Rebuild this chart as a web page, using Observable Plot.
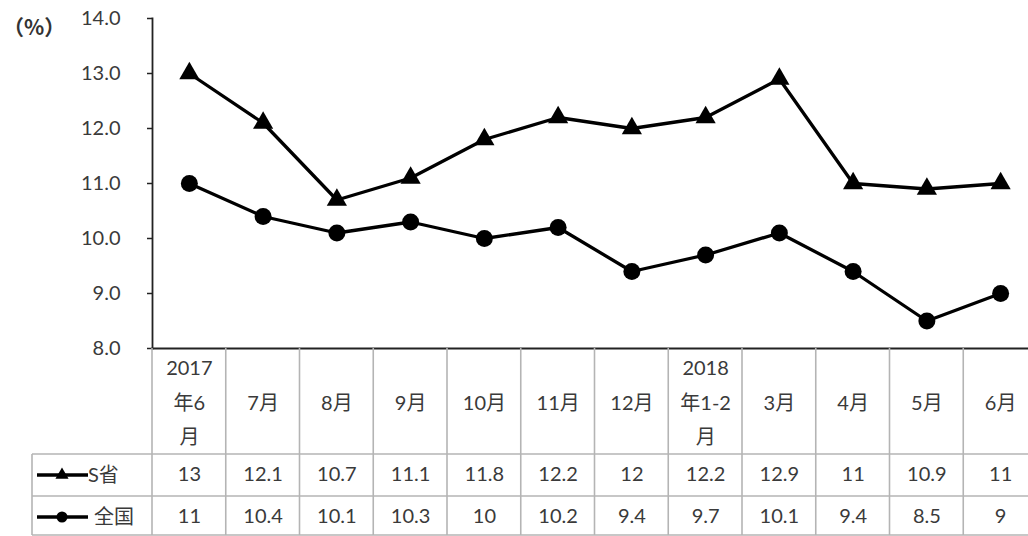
<!DOCTYPE html>
<html><head><meta charset="utf-8">
<script src="https://cdn.jsdelivr.net/npm/d3@7"></script>
<script src="https://cdn.jsdelivr.net/npm/@observablehq/plot@0.6"></script>
<style>
body{margin:0;background:#fff;}
#chart{position:relative;width:1028px;height:536px;overflow:hidden;}
.unit{position:absolute;left:3px;top:11px;font:bold 21px "Noto Sans CJK SC";color:#333;}
</style></head><body><div id="chart"><div class="unit">（%）</div></div>
<script>
const categories = ["2017年6月","7月","8月","9月","10月","11月","12月","2018年1-2月","3月","4月","5月","6月"];
const headerLabels = ["2017\n年6\n月","7月","8月","9月","10月","11月","12月","2018\n年1-2\n月","3月","4月","5月","6月"];
const seriesNames = ["S省","全国"];
const sProvince = [13,12.1,10.7,11.1,11.8,12.2,12,12.2,12.9,11,10.9,11];
const national = [11,10.4,10.1,10.3,10,10.2,9.4,9.7,10.1,9.4,8.5,9];
const yTicks = [8,9,10,11,12,13,14];

(function(){
const FONT = 'Lato, "Noto Sans CJK SC", sans-serif';
const TXT = "#3a3a3a";
const data = [
  ...categories.map((c,i)=>({cat:c, v:sProvince[i], s:seriesNames[0]})),
  ...categories.map((c,i)=>({cat:c, v:national[i], s:seriesNames[1]}))
];
const sData = data.filter(d=>d.s===seriesNames[0]);
const nData = data.filter(d=>d.s===seriesNames[1]);

const plot = Plot.plot({
  width: 1028, height: 536,
  marginLeft: 152, marginRight: 0, marginTop: 18, marginBottom: 188,
  style: {fontFamily: FONT, background: "#fff"},
  x: {type: "point", domain: categories, range: [152, 1037], padding: 0.5, round: false, axis: null},
  y: {domain: [8, 14], axis: null},
  marks: [
    Plot.axisY({ticks: yTicks, tickFormat: d=>d.toFixed(1), tickSize: 5, tickPadding: 27, fontSize: 20, fill: TXT, stroke: "#222", strokeWidth: 1.5, label: null}),
    Plot.frame({anchor: "left", stroke: "#222", strokeWidth: 1.8}),
    Plot.frame({anchor: "bottom", stroke: "#222", strokeWidth: 1.8}),
    Plot.line(sData, {x: "cat", y: "v", stroke: "#000", strokeWidth: 3.3}),
    Plot.line(nData, {x: "cat", y: "v", stroke: "#000", strokeWidth: 3.3}),
    Plot.dot(sData, {x: "cat", y: "v", symbol: "triangle", r: 7.5, fill: "#000"}),
    Plot.dot(nData, {x: "cat", y: "v", symbol: "circle", r: 8.5, fill: "#000"}),
    Plot.text(categories, {x: d=>d, text: (d,i)=>headerLabels[i], frameAnchor: "bottom", dy: 50, lineAnchor: "middle", lineHeight: 1.72, fontSize: 20, fill: TXT}),
    Plot.text(sData, {x: "cat", text: d=>String(d.v), frameAnchor: "bottom", dy: 126, lineAnchor: "middle", fontSize: 20, fill: TXT}),
    Plot.text(nData, {x: "cat", text: d=>String(d.v), frameAnchor: "bottom", dy: 168, lineAnchor: "middle", fontSize: 20, fill: TXT})
  ]
});
document.getElementById("chart").prepend(plot);

// data-table grid and legend keys
const svg = d3.select(plot);
const xs = plot.scale("x");
const step = xs.apply(categories[1]) - xs.apply(categories[0]);
const tTop = 348, row1 = 454, row2 = 496, tBottom = 535, leftCol = 32;
const g = svg.append("g").attr("stroke", "#b4b4b4").attr("stroke-width", 1.6);
categories.forEach(c => {
  const bx = xs.apply(c) - step/2;
  g.append("line").attr("x1", bx).attr("x2", bx).attr("y1", tTop).attr("y2", tBottom);
});
g.append("line").attr("x1", leftCol).attr("x2", leftCol).attr("y1", row1).attr("y2", tBottom);
[row1, row2, tBottom].forEach(y => g.append("line").attr("x1", leftCol).attr("x2", 1028).attr("y1", y).attr("y2", y));

const keyY = [475, 517];
const syms = [d3.symbolTriangle, d3.symbolCircle];
const sizes = [75, 95];
seriesNames.forEach((name, i) => {
  const k = svg.append("g");
  k.append("line").attr("x1", 37).attr("x2", 88).attr("y1", keyY[i]).attr("y2", keyY[i]).attr("stroke", "#000").attr("stroke-width", 3.3);
  k.append("path").attr("d", d3.symbol(syms[i], sizes[i])()).attr("transform", `translate(62,${keyY[i]})`).attr("fill", "#000");
  k.append("text").attr("x", i === 0 ? 88 : 94).attr("y", keyY[i]).attr("dy", "0.35em").attr("text-anchor", "start").attr("font-size", 20).attr("fill", TXT).attr("font-family", FONT).text(name);
});
})();
</script></body></html>
